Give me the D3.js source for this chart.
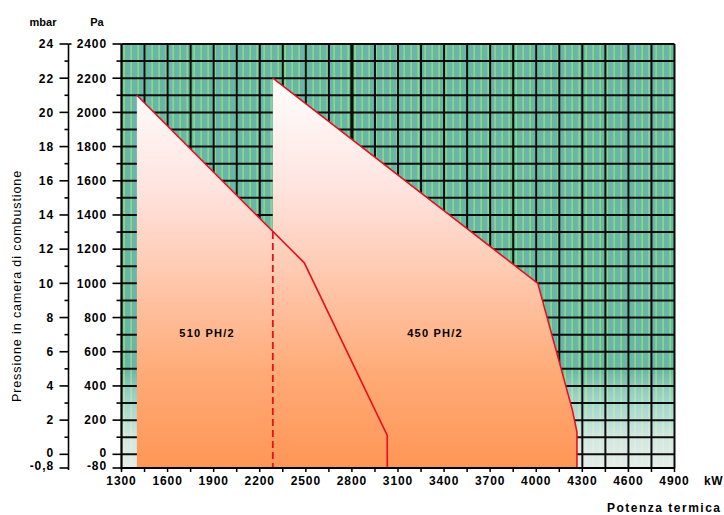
<!DOCTYPE html>
<html><head><meta charset="utf-8">
<script src="https://cdn.jsdelivr.net/npm/d3@7"></script>
<style>
body{margin:0;background:#fff}
text{font-family:"Liberation Sans",Arial,sans-serif;fill:#000}
</style>
</head><body>
<svg id="c" width="724" height="515"></svg>
<script>
// ---- data ----
const kwTicks = [1300,1600,1900,2200,2500,2800,3100,3400,3700,4000,4300,4600,4900];
const paTicks = [-80,0,200,400,600,800,1000,1200,1400,1600,1800,2000,2200,2400];
const paLabels = ["-80","0","200","400","600","800","1000","1200","1400","1600","1800","2000","2200","2400"];
const mbarTicks = [-0.8,0,2,4,6,8,10,12,14,16,18,20,22,24];
const mbarLabels = ["-0,8","0","2","4","6","8","10","12","14","16","18","20","22","24"];
// burner 510 PH/2 working field (kW, Pa)
const b510Kw = [1400,1400,2490,3030,3030];
const b510Pa = [-80,2100,1120,110,-80];
// burner 450 PH/2 working field (kW, Pa)
const b450Kw = [2285,2285,4010,4235,4265,4265];
const b450Pa = [-80,2200,1000,260,130,-80];
// dashed limit line
const dashKw = [2285,2285];
const dashPa = [1300,-80];
const seriesNames = ["510 PH/2","450 PH/2"];
const seriesLabelKw = [1857,3341];
const seriesLabelPa = [710,710];

// ---- scales ----
const svg = d3.select("#c");
const L=121.5, R=674.5, T=44, B=468;
const x = d3.scaleLinear().domain([1300,4900]).range([L,R]);
const y = d3.scaleLinear().domain([-80,2400]).range([B,T]);
const ym = d3.scaleLinear().domain([-0.8,24]).range([B,T]);

const defs = svg.append("defs");
const pat = defs.append("pattern").attr("id","stripes").attr("patternUnits","userSpaceOnUse")
  .attr("width",7).attr("height",10);
pat.append("rect").attr("width",7).attr("height",10).attr("fill","#5fbf8e");
pat.append("rect").attr("x",1.5).attr("width",1.5).attr("height",10).attr("fill","#7aa6d6");
pat.append("rect").attr("x",4.5).attr("width",1.2).attr("height",10).attr("fill","#a6d79e");

const fade = defs.append("linearGradient").attr("id","fade").attr("gradientUnits","userSpaceOnUse")
  .attr("x1",0).attr("y1",T).attr("x2",0).attr("y2",B);
[[0,"#ffffff",0],[0.77,"#ffffff",0],[0.84,"#d6f2ec",0.5],[0.93,"#eef3ef",0.8],[1,"#f2f2f0",0.9]]
  .forEach(s=>fade.append("stop").attr("offset",s[0]).attr("stop-color",s[1]).attr("stop-opacity",s[2]));

const warm = defs.append("linearGradient").attr("id","warm").attr("gradientUnits","userSpaceOnUse")
  .attr("x1",0).attr("y1",y(2200)).attr("x2",0).attr("y2",B);
[[0,"#fffefe"],[0.28,"#ffe4e0"],[0.52,"#ffc7ac"],[0.76,"#ffaa76"],[1,"#ff9657"]]
  .forEach(s=>warm.append("stop").attr("offset",s[0]).attr("stop-color",s[1]));

// background
svg.append("rect").attr("x",L).attr("y",T).attr("width",R-L).attr("height",B-T).attr("fill","url(#stripes)");
svg.append("rect").attr("x",L).attr("y",T).attr("width",R-L).attr("height",B-T).attr("fill","url(#fade)");

// grid
const g = svg.append("g").attr("stroke","#0d0d0d");
d3.range(1300,4901,150).forEach(v=>{
  g.append("line").attr("x1",x(v)).attr("x2",x(v)).attr("y1",T).attr("y2",B)
   .attr("stroke-width", v===2800?3.2:2);
});
d3.range(0,2401,100).forEach(v=>{
  g.append("line").attr("x1",L).attr("x2",R).attr("y1",y(v)).attr("y2",y(v)).attr("stroke-width",2);
});

// areas
const line = d3.line().x(d=>x(d[0])).y(d=>y(d[1]));
function pts(kw,pa){return kw.map((k,i)=>[k,pa[i]]);}
[[b510Kw,b510Pa],[b450Kw,b450Pa]].forEach(([kw,pa])=>{
  const p = pts(kw,pa);
  svg.append("path").attr("d",line(p)+"Z").attr("fill","url(#warm)");
});
[[b510Kw,b510Pa],[b450Kw,b450Pa]].forEach(([kw,pa])=>{
  const p = pts(kw,pa).slice(1);
  svg.append("path").attr("d",line(p)).attr("fill","none").attr("stroke","#e5101c").attr("stroke-width",1.6);
});
svg.append("path").attr("d",line(pts(dashKw,dashPa))).attr("fill","none")
  .attr("stroke","#e5101c").attr("stroke-width",1.8).attr("stroke-dasharray","7,4");

// series labels
seriesNames.forEach((n,i)=>{
  svg.append("text").attr("x",x(seriesLabelKw[i])).attr("y",y(seriesLabelPa[i])).attr("dy","0.35em")
   .attr("text-anchor","middle").attr("font-size",11).attr("font-weight","bold").attr("letter-spacing",1.2).text(n);
});

// bottom axis
svg.append("line").attr("x1",L).attr("x2",R).attr("y1",B).attr("y2",B).attr("stroke","#000").attr("stroke-width",2);
d3.range(1300,4901,150).forEach(v=>{
  svg.append("line").attr("x1",x(v)).attr("x2",x(v)).attr("y1",B).attr("y2",B+4).attr("stroke","#000").attr("stroke-width",1.5);
});
kwTicks.forEach(v=>{
  svg.append("text").attr("x",x(v)).attr("y",485).attr("text-anchor","middle")
   .attr("font-size",12).attr("font-weight","bold").attr("letter-spacing",0.9).text(v);
});
svg.append("text").attr("x",704).attr("y",485).attr("font-size",12).attr("font-weight","bold").attr("letter-spacing",0.5).text("kW");
svg.append("text").attr("x",607).attr("y",512).attr("font-size",12).attr("letter-spacing",1.5).attr("font-weight","bold").text("Potenza termica");

// Pa axis
const ax2 = 121.5;
paTicks.forEach((v,i)=>{
  svg.append("line").attr("x1",ax2-9).attr("x2",ax2).attr("y1",y(v)).attr("y2",y(v)).attr("stroke","#000").attr("stroke-width",1.6);
  svg.append("text").attr("x",107).attr("y",y(v)).attr("dy", v<0?"0.2em":(v===0?"0.22em":"0.36em")).attr("text-anchor","end")
   .attr("font-size",12).attr("font-weight","bold").attr("letter-spacing",0.9).text(paLabels[i]);
});
d3.range(100,2400,200).forEach(v=>{
  svg.append("line").attr("x1",ax2-5).attr("x2",ax2).attr("y1",y(v)).attr("y2",y(v)).attr("stroke","#000").attr("stroke-width",1.6);
});
svg.append("line").attr("x1",ax2).attr("x2",ax2).attr("y1",T).attr("y2",B+2).attr("stroke","#000").attr("stroke-width",1.5);

// mbar axis
const ax1 = 68.5;
svg.append("line").attr("x1",ax1).attr("x2",ax1).attr("y1",T).attr("y2",B+2).attr("stroke","#000").attr("stroke-width",1.6);
svg.append("line").attr("x1",ax1).attr("x2",ax1+3).attr("y1",T).attr("y2",T).attr("stroke","#000").attr("stroke-width",1.6);
mbarTicks.forEach((v,i)=>{
  svg.append("line").attr("x1",ax1-9).attr("x2",ax1).attr("y1",ym(v)).attr("y2",ym(v)).attr("stroke","#000").attr("stroke-width",1.6);
  svg.append("text").attr("x",54).attr("y",ym(v)).attr("dy", v<0?"0.2em":(v===0?"0.22em":"0.36em")).attr("text-anchor","end")
   .attr("font-size",12).attr("font-weight","bold").attr("letter-spacing",0.9).text(mbarLabels[i]);
});
d3.range(1,24,2).forEach(v=>{
  svg.append("line").attr("x1",ax1-4).attr("x2",ax1).attr("y1",ym(v)).attr("y2",ym(v)).attr("stroke","#000").attr("stroke-width",1.6);
});

// headers
svg.append("text").attr("x",43).attr("y",26).attr("text-anchor","middle").attr("font-size",11).attr("font-weight","bold").text("mbar");
svg.append("text").attr("x",97).attr("y",26).attr("text-anchor","middle").attr("font-size",11).attr("font-weight","bold").text("Pa");

// y title
svg.append("text").attr("transform","translate(21,286) rotate(-90)").attr("text-anchor","middle")
  .attr("font-size",12.5).attr("letter-spacing",0.9).text("Pressione in camera di combustione");
</script>
</body></html>
